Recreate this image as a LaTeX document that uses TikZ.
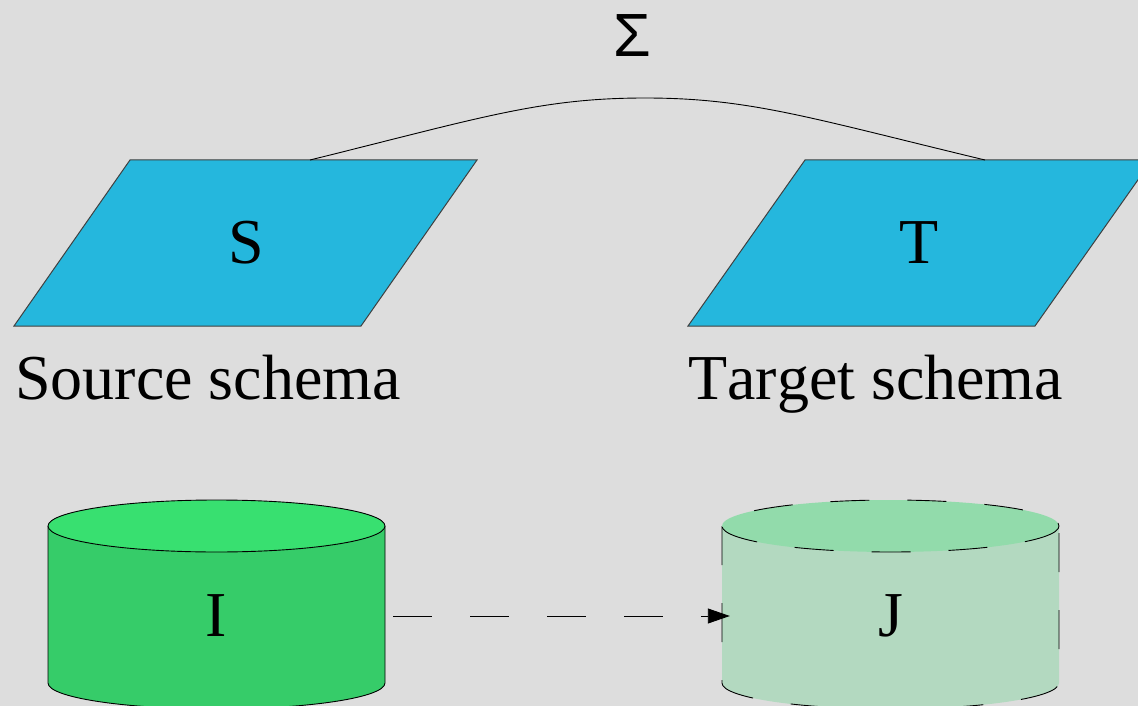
\documentclass[tikz,border=0pt]{standalone}
\usepackage{fontspec}
\setmainfont[Kerning=Off]{Liberation Serif}
\newfontfamily\sigfont{Liberation Sans}
\usetikzlibrary{arrows.meta}
\definecolor{bg}{RGB}{221,221,221}
\definecolor{schemablue}{RGB}{37,183,221}
\definecolor{srcbody}{RGB}{54,204,105}
\definecolor{srctop}{RGB}{56,224,112}
\definecolor{tgtbody}{RGB}{179,217,192}
\definecolor{tgttop}{RGB}{146,219,171}
\tikzset{
  schema/.style={fill=schemablue, draw=black!75, line width=1pt},
  bigtext/.style={inner sep=0pt, font=\fontsize{64}{70}\selectfont},
  dashpat/.style={dash pattern=on 39pt off 38pt},
  lbl/.style={inner sep=0pt, minimum height=44pt, font=\fontsize{64}{70}\selectfont},
}
\begin{document}
\begin{tikzpicture}[x=1pt,y=-1pt]
\useasboundingbox (0,0) rectangle (1138,706);
\fill[bg] (0,0) rectangle (1138,706);
\clip (0,0) rectangle (1138,706);
% schemas
\draw[schema] (130,160) -- (477,160) -- (361,326) -- (14,326) -- cycle;
\draw[schema] (805,160) -- (1152,160) -- (1035,326) -- (688,326) -- cycle;
\node[bigtext, anchor=base] (S) at (246,263) {S};
\node[bigtext, anchor=base] (T) at (919,263) {T};
\node[bigtext, anchor=base west] (srcl) at (15,399) {Source schema};
\node[bigtext, anchor=base west] (tgtl) at (688,399) {Target schema};
\coordinate (sTop) at (310,160);
\coordinate (tTop) at (985,160);
\draw[line width=0.9pt] (sTop) .. controls (480,118) and (540,98) .. (645,98)
      .. controls (750,98) and (810,118) .. (tTop);
\node[inner sep=0pt, anchor=base, font=\sigfont\fontsize{61}{66}\selectfont] (sigma) at (632,57) {Σ};
% source instance
\fill[srcbody] (48,526) -- (48,683) arc[start angle=180, end angle=0, x radius=168.5, y radius=26] -- (385,526) -- cycle;
\draw[line width=0.9pt] (48,526) -- (48,683) arc[start angle=180, end angle=0, x radius=168.5, y radius=26] -- (385,526);
\filldraw[fill=srctop, draw=black, line width=0.9pt] (216.5,526) ellipse[x radius=168.5, y radius=26];
% target instance
\fill[tgtbody] (722,526) -- (722,683) arc[start angle=180, end angle=0, x radius=168.5, y radius=26] -- (1059,526) -- cycle;
\draw[line width=0.9pt, dashpat] (722,526) -- (722,683) arc[start angle=180, end angle=0, x radius=168.5, y radius=26] -- (1059,526);
\fill[tgttop] (890.5,526) ellipse[x radius=168.5, y radius=26];
\draw[line width=0.9pt, dashpat] (890.5,526) ellipse[x radius=168.5, y radius=26];
\node[lbl, minimum width=353pt] (I) at (216.5,616) {I};
\node[lbl, minimum width=321pt] (J) at (890.5,616) {J};
\draw[line width=0.9pt, dashpat, -{Triangle[length=22pt, width=15pt]}] (I) -- (J);
\end{tikzpicture}
\end{document}
